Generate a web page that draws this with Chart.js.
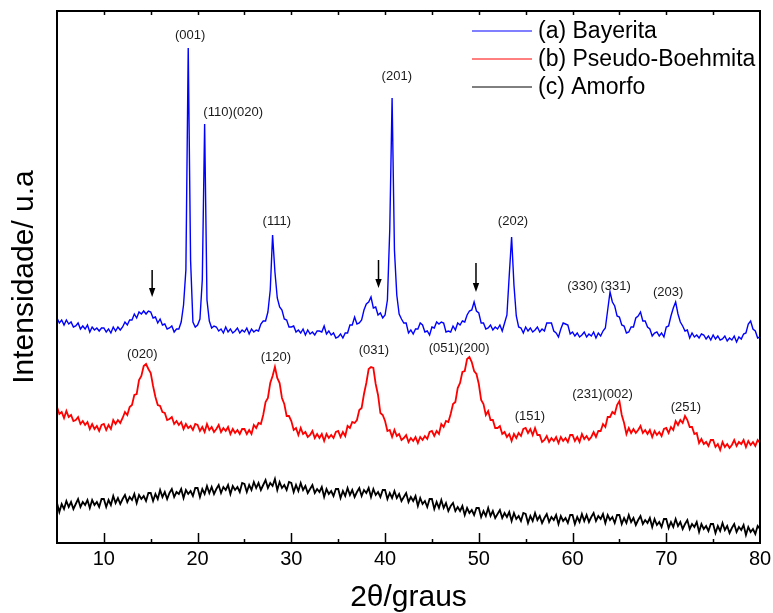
<!DOCTYPE html>
<html>
<head>
<meta charset="utf-8">
<script src="https://cdn.jsdelivr.net/npm/chart.js@4.4.1/dist/chart.umd.min.js"></script>
<style>
html,body{margin:0;padding:0;background:#fff;}
#wrap{width:773px;height:613px;}
</style>
</head>
<body>
<div id="wrap"><canvas id="c" width="773" height="613"></canvas></div>
<script>
// ---- data (2θ grid from 5° to 80° in 0.25° steps) ----
const twoThetaStart = 5;
const twoThetaStep = 0.25;

const bayerita = [
225,220,223,218, 223,219,221,216, 217,220,214,217, 214,218,211,216, 213,215,212,215,
215,211,214,210, 216,212,216,213, 216,221,218,223, 223,229,225,231, 229,232,229,232,
231,225,226,220, 224,218,219,214, 215,217,211,214, 214,221,238,273, 495,283,221,216,
218,224,263,419, 243,222,215,217, 216,212,214,210, 216,211,214,210, 212,215,210,213,
211,215,209,214, 211,213,212,219, 222,222,231,253, 308,271,245,236, 233,224,223,216,
216,217,211,213, 210,214,208,213, 209,211,208,212, 212,211,217,209, 212,208,210,205,
206,209,205,210, 210,218,218,226, 219,220,223,233, 239,241,246,235, 236,228,230,225,
228,243,313,445, 293,248,229,224, 220,220,210,213, 209,214,214,220, 218,211,212,208,
216,215,221,219, 221,220,211,212, 211,217,213,220, 218,222,221,228, 232,233,241,232,
230,220,220,214, 215,218,213,216, 214,218,212,220, 228,268,306,258, 227,216,215,210,
216,212,215,211, 213,216,211,214, 212,220,220,220, 212,210,206,214, 220,219,218,209,
211,207,210,206, 208,211,206,209, 207,211,205,210, 207,212,215,233, 251,241,237,227,
226,218,217,210, 211,216,216,225, 227,231,222,222, 216,214,207,210, 211,207,210,206,
216,217,227,235, 241,229,221,217, 212,213,205,210, 206,208,205,209, 208,204,207,203,
208,204,207,203, 204,207,202,205, 203,207,201,206, 204,209,210,219, 222,214,212,205,
206
];

const pseudoBoehmita = [
136,129,131,125, 132,126,128,122, 123,126,119,122, 118,121,114,119, 114,117,112,118,
119,113,118,114, 123,119,123,120, 125,131,128,136, 138,148,149,163, 167,177,179,174,
170,157,146,138, 137,131,130,123, 124,126,119,122, 118,121,114,119, 115,117,113,119,
118,112,116,111, 119,113,116,111, 114,118,111,115, 112,116,109,114, 110,113,109,114,
114,109,113,109, 118,115,120,119, 128,141,145,160, 167,176,165,160, 145,139,127,127,
122,113,115,108, 115,109,111,106, 108,112,105,109, 105,109,102,109, 105,108,105,111,
112,106,111,107, 117,115,121,120, 123,133,135,149, 160,174,176,175, 159,148,130,128,
122,112,113,106, 113,107,109,103, 105,108,101,105, 102,106,100,106, 103,107,104,111,
112,107,112,109, 119,116,122,121, 129,139,141,155, 160,171,172,184, 186,181,172,169,
159,143,139,128, 132,123,123,115, 115,117,109,111, 106,109,102,109, 105,110,107,114,
115,110,114,108, 115,108,108,101, 103,107,101,105, 102,106,100,106, 102,105,101,108,
108,102,106,101, 109,104,107,103, 106,111,106,112, 112,119,116,126, 126,131,129,138,
142,128,120,109, 115,110,114,110, 113,117,110,113, 109,113,106,112, 108,111,107,114,
115,110,116,113, 122,118,123,120, 127,123,116,116, 109,110,100,104, 99,101,97,103,
103,96,99,93, 101,96,99,95, 98,103,97,101, 99,103,96,102, 98,101,97,103,
100
];

const amorfo = [
40,31,39,34, 42,36,41,34, 39,44,36,41, 38,43,35,43, 38,41,36,44,
44,36,43,38, 47,40,45,39, 44,48,41,46, 43,49,40,48, 44,47,42,50,
50,42,49,44, 53,46,51,44, 50,54,46,51, 49,54,45,53, 49,52,47,55,
55,46,54,49, 57,50,56,49, 54,58,50,56, 53,58,49,57, 53,56,51,60,
59,51,58,53, 61,55,60,53, 58,63,55,60, 57,64,53,61, 55,58,53,61,
60,51,58,52, 60,53,57,50, 54,58,50,54, 51,56,46,54, 49,52,47,54,
54,45,52,47, 55,48,53,46, 51,55,47,53, 50,55,46,54, 48,51,46,53,
53,44,50,45, 52,45,49,42, 46,50,41,46, 42,47,37,45, 39,42,36,44,
44,34,41,35, 43,35,40,32, 37,40,32,36, 32,37,28,35, 30,33,28,35,
35,26,32,27, 35,27,32,25, 29,33,25,30, 26,31,22,30, 24,27,22,30,
29,20,27,22, 30,23,27,20, 25,29,21,26, 23,28,19,27, 22,25,20,28,
28,19,26,21, 29,22,28,21, 26,30,22,27, 24,29,20,28, 23,26,20,28,
28,19,25,20, 28,21,25,18, 23,27,19,23, 20,25,16,24, 18,21,16,24,
24,15,21,16, 24,17,21,14, 19,23,14,19, 16,21,11,19, 14,17,12,19,
19,10,17,12, 20,13,17,10, 15,19,11,16, 13,18,8,16, 11,14,9,17,
14
];

const xTickLabels = [10, 20, 30, 40, 50, 60, 70, 80];
const seriesNames = ['(a) Bayerita', '(b) Pseudo-Boehmita', '(c) Amorfo'];
const seriesColors = ['#0000ff', '#ff0000', '#000000'];

// Miller-index annotations (2θ, intensity)
const peakLabels = [
  {text:'(001)', x:19.2, y:508},
  {text:'(110)(020)', x:23.8, y:431},
  {text:'(111)', x:28.45, y:322},
  {text:'(201)', x:41.25, y:467},
  {text:'(202)', x:53.65, y:322},
  {text:'(330)', x:61.05, y:257},
  {text:'(331)', x:64.6, y:257},
  {text:'(203)', x:70.2, y:251},
  {text:'(020)', x:14.1, y:189},
  {text:'(120)', x:28.35, y:186},
  {text:'(031)', x:38.8, y:193},
  {text:'(051)(200)', x:47.9, y:195},
  {text:'(151)', x:55.45, y:127},
  {text:'(231)(002)', x:63.2, y:149},
  {text:'(251)', x:72.1, y:136}
];
// arrows: 2θ, top intensity, tip intensity
const arrowMarks = [
  {x:15.15, top:273, tip:246},
  {x:39.3, top:283, tip:255},
  {x:49.7, top:280, tip:251}
];

const twoTheta = bayerita.map((_, i) => twoThetaStart + twoThetaStep * i);
const FONT = '"Liberation Sans", Arial, Helvetica, sans-serif';

function toPoints(arr){ return twoTheta.map((x, i) => ({x: x, y: arr[i]})); }

const decor = {
  id: 'decor',
  afterDraw(chart) {
    const {ctx, chartArea: a, scales: {x, y}} = chart;
    ctx.save();
    // peak labels
    ctx.font = '13px ' + FONT;
    ctx.fillStyle = '#1a1a1a';
    ctx.textAlign = 'center';
    ctx.textBaseline = 'middle';
    peakLabels.forEach(p => {
      ctx.fillText(p.text, x.getPixelForValue(p.x), y.getPixelForValue(p.y));
    });
    // arrows
    ctx.strokeStyle = '#000';
    ctx.fillStyle = '#000';
    ctx.lineWidth = 1.5;
    arrowMarks.forEach(m => {
      const px = x.getPixelForValue(m.x);
      const y0 = y.getPixelForValue(m.top);
      const y1 = y.getPixelForValue(m.tip);
      ctx.beginPath(); ctx.moveTo(px, y0); ctx.lineTo(px, y1 - 8); ctx.stroke();
      ctx.beginPath(); ctx.moveTo(px - 3.2, y1 - 9); ctx.lineTo(px + 3.2, y1 - 9); ctx.lineTo(px, y1); ctx.closePath(); ctx.fill();
    });
    // frame
    ctx.lineWidth = 2;
    ctx.strokeStyle = '#000';
    ctx.strokeRect(a.left, a.top, a.right - a.left, a.bottom - a.top);
    // inward ticks
    ctx.lineWidth = 1.5;
    x.ticks.forEach(t => {
      if (t.value <= x.min || t.value >= x.max) return;
      const px = Math.round(x.getPixelForValue(t.value)) + 0.5;
      const major = xTickLabels.includes(t.value);
      ctx.beginPath();
      ctx.moveTo(px, a.bottom); ctx.lineTo(px, a.bottom - (major ? 10 : 4));
      ctx.moveTo(px, a.top); ctx.lineTo(px, a.top + 4);
      ctx.stroke();
    });
    // legend
    ctx.font = '23px ' + FONT;
    ctx.textAlign = 'left';
    ctx.textBaseline = 'middle';
    chart.data.datasets.forEach((ds, i) => {
      const ly = a.top + 20 + i * 28;
      ctx.strokeStyle = ds.borderColor;
      ctx.lineWidth = 1;
      ctx.beginPath(); ctx.moveTo(a.right - 288, ly); ctx.lineTo(a.right - 228, ly); ctx.stroke();
      ctx.fillStyle = '#000';
      ctx.fillText(ds.label, a.right - 222, ly + 1);
    });
    ctx.restore();
  }
};

new Chart(document.getElementById('c').getContext('2d'), {
  type: 'line',
  data: {
    datasets: [
      {label: seriesNames[0], data: toPoints(bayerita), borderColor: seriesColors[0], borderWidth: 1.4, pointRadius: 0, tension: 0},
      {label: seriesNames[1], data: toPoints(pseudoBoehmita), borderColor: seriesColors[1], borderWidth: 1.8, pointRadius: 0, tension: 0},
      {label: seriesNames[2], data: toPoints(amorfo), borderColor: seriesColors[2], borderWidth: 1.8, pointRadius: 0, tension: 0}
    ]
  },
  options: {
    responsive: false,
    animation: false,
    devicePixelRatio: 1,
    layout: {padding: {top: 11, right: 13, bottom: 0, left: 0}},
    plugins: {legend: {display: false}, tooltip: {enabled: false}, title: {display: false}},
    scales: {
      x: {
        type: 'linear', min: 5, max: 80,
        grid: {display: false, drawTicks: false},
        border: {display: false},
        ticks: {stepSize: 5, autoSkip: false, maxRotation: 0, padding: 4, color: '#000',
                font: {family: FONT, size: 20},
                callback: v => xTickLabels.includes(v) ? String(v) : ''},
        title: {display: true, text: '2θ/graus', color: '#000',
                font: {family: FONT, size: 30, lineHeight: 1}, padding: {top: 0, bottom: 0}},
        afterFit: s => { s.height = 70; s.paddingLeft = 0; s.paddingRight = 0; }
      },
      y: {
        min: 0, max: 532,
        grid: {display: false, drawTicks: false},
        border: {display: false},
        ticks: {display: false},
        title: {display: true, text: 'Intensidade/ u.a', color: '#000',
                font: {family: FONT, size: 30, lineHeight: 1}, padding: {top: 10, bottom: 0}},
        afterFit: s => { s.width = 57; }
      }
    }
  },
  plugins: [decor]
});
</script>
</body>
</html>
